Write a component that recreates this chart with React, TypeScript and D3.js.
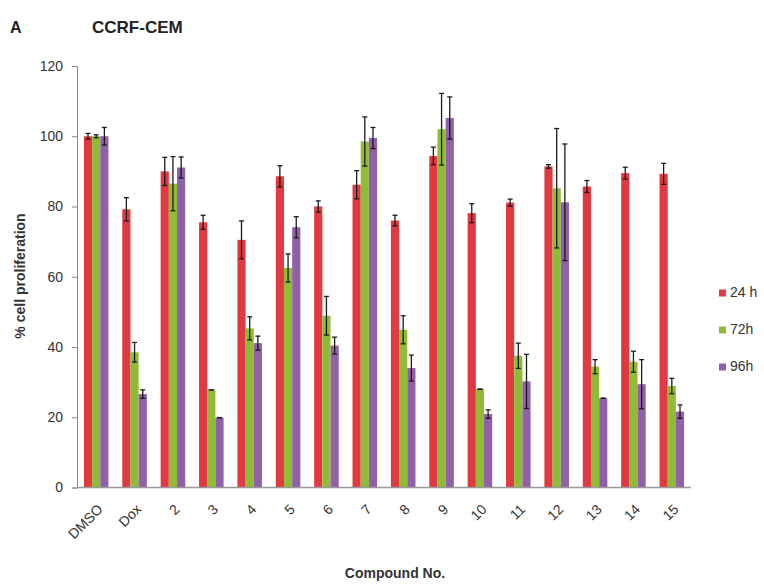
import * as d3 from 'd3';
import { useEffect, useRef } from 'react';

// compounds on the x axis
const categories = ['DMSO', 'Dox', '2', '3', '4', '5', '6', '7', '8', '9', '10', '11', '12', '13', '14', '15'];
const seriesNames = ['24 h', '72h', '96h'];
const seriesColors = ['#e0393f', '#8fbc37', '#9060a8'];

// means
const values24 = [100, 79.2, 90, 75.5, 70.5, 88.6, 80, 86.2, 76, 94.4, 78.1, 81.1, 91.4, 85.7, 89.5, 89.3];
const values72 = [100, 38.5, 86.5, 27.8, 45.3, 62.5, 48.9, 98.5, 44.9, 102, 28, 37.5, 85.2, 34.4, 35.8, 28.9];
const values96 = [100, 26.6, 91.1, 19.9, 41.1, 74.1, 40.4, 99.5, 34, 105.2, 20.9, 30.2, 81.2, 25.4, 29.4, 21.6];
// error bars (+/-)
const err24 = [0.8, 3.3, 4, 2, 5.4, 3, 1.6, 4, 1.5, 2.5, 2.7, 1, 0.5, 1.7, 1.7, 3];
const err72 = [0.4, 2.8, 7.7, 0, 3.3, 4, 5.5, 7, 4, 10.2, 0, 3.6, 17, 2, 3, 2.2];
const err96 = [2.5, 1.2, 3, 0, 2, 3, 2.4, 3, 3.7, 6, 1.2, 7.7, 16.6, 0, 7, 1.9];
const yTicks = [0, 20, 40, 60, 80, 100, 120];

const seriesValues = [values24, values72, values96];
const seriesErrors = [err24, err72, err96];

const W = 764;
const H = 585;
const font = '"Liberation Sans Narrow", "Liberation Sans", Arial, sans-serif';

const App = () => {
  const ref = useRef<SVGSVGElement>(null);

  useEffect(() => {
    const svg = d3.select(ref.current);
    svg.selectAll('*').remove();

    const left = 77;
    const right = 691;
    const top = 66;
    const bottom = 487.5;

    const x = d3.scaleBand().domain(categories).range([left, right]).paddingInner(0.36).paddingOuter(0.18);
    const xs = d3.scaleBand().domain(seriesNames).range([0, x.bandwidth()]);
    const y = d3.scaleLinear().domain([0, 120]).range([bottom, top]);

    // titles
    svg.append('text').attr('x', 10).attr('y', 33).style('font-family', font)
      .style('font-weight', 'bold').style('font-size', '16px').attr('fill', '#222').text('A');
    svg.append('text').attr('x', 92).attr('y', 33).style('font-family', font)
      .style('font-weight', 'bold').style('font-size', '17px').attr('fill', '#222').text('CCRF-CEM');

    // y axis
    const yAxis = svg.append('g').attr('transform', `translate(${left},0)`)
      .call(d3.axisLeft(y).tickValues(yTicks).tickSize(5).tickPadding(9));
    yAxis.select('.domain').attr('stroke', '#888');
    yAxis.selectAll('.tick line').attr('stroke', '#888');
    yAxis.selectAll('text').style('font-family', font).style('font-size', '14px').attr('fill', '#333');

    svg.append('text')
      .attr('transform', `translate(25,276) rotate(-90)`)
      .attr('text-anchor', 'middle')
      .style('font-family', font).style('font-weight', 'bold').style('font-size', '14px')
      .attr('fill', '#333').text('% cell proliferation');

    // bars
    seriesNames.forEach((s, si) => {
      const g = svg.append('g');
      g.selectAll('rect').data(categories).enter().append('rect')
        .attr('x', (c) => (x(c) ?? 0) + (xs(s) ?? 0))
        .attr('y', (c, i) => y(seriesValues[si][i]))
        .attr('width', xs.bandwidth())
        .attr('height', (c, i) => bottom - y(seriesValues[si][i]))
        .attr('fill', seriesColors[si]);
    });

    // error bars
    seriesNames.forEach((s, si) => {
      const g = svg.append('g').attr('stroke', '#1a1a1a').attr('stroke-width', 1.3);
      categories.forEach((c, i) => {
        const e = seriesErrors[si][i];
        const cx = (x(c) ?? 0) + (xs(s) ?? 0) + xs.bandwidth() / 2;
        const v = seriesValues[si][i];
        const y1 = y(v + e);
        const y2 = y(v - e);
        g.append('line').attr('x1', cx).attr('x2', cx).attr('y1', y1).attr('y2', y2);
        g.append('line').attr('x1', cx - 2.5).attr('x2', cx + 2.5).attr('y1', y1).attr('y2', y1);
        g.append('line').attr('x1', cx - 2.5).attr('x2', cx + 2.5).attr('y1', y2).attr('y2', y2);
      });
    });

    // x axis
    svg.append('line').attr('x1', left).attr('x2', right).attr('y1', bottom).attr('y2', bottom)
      .attr('stroke', '#999').attr('stroke-width', 1.5);

    svg.append('g').selectAll('text').data(categories).enter().append('text')
      .attr('transform', (c) => `translate(${(x(c) ?? 0) + x.bandwidth() / 2 + 5},${bottom + 20}) rotate(-45)`)
      .attr('text-anchor', 'end')
      .attr('dominant-baseline', 'middle')
      .style('font-family', font).style('font-size', '14px').attr('fill', '#333')
      .text((c) => c);

    svg.append('text').attr('x', 395).attr('y', 578).attr('text-anchor', 'middle')
      .style('font-family', font).style('font-weight', 'bold').style('font-size', '14px')
      .attr('fill', '#333').text('Compound No.');

    // legend
    seriesNames.forEach((s, si) => {
      const ly = 293 + si * 37;
      svg.append('rect').attr('x', 719).attr('y', ly - 3.5).attr('width', 7).attr('height', 7)
        .attr('fill', seriesColors[si]);
      svg.append('text').attr('x', 730).attr('y', ly).attr('dominant-baseline', 'middle')
        .style('font-family', font).style('font-size', '14px').attr('fill', '#333').text(s);
    });
  }, []);

  return (
    <svg ref={ref} width={W} height={H} style={{ position: 'absolute', left: 0, top: 0, background: '#fff' }} />
  );
};

export default App;
